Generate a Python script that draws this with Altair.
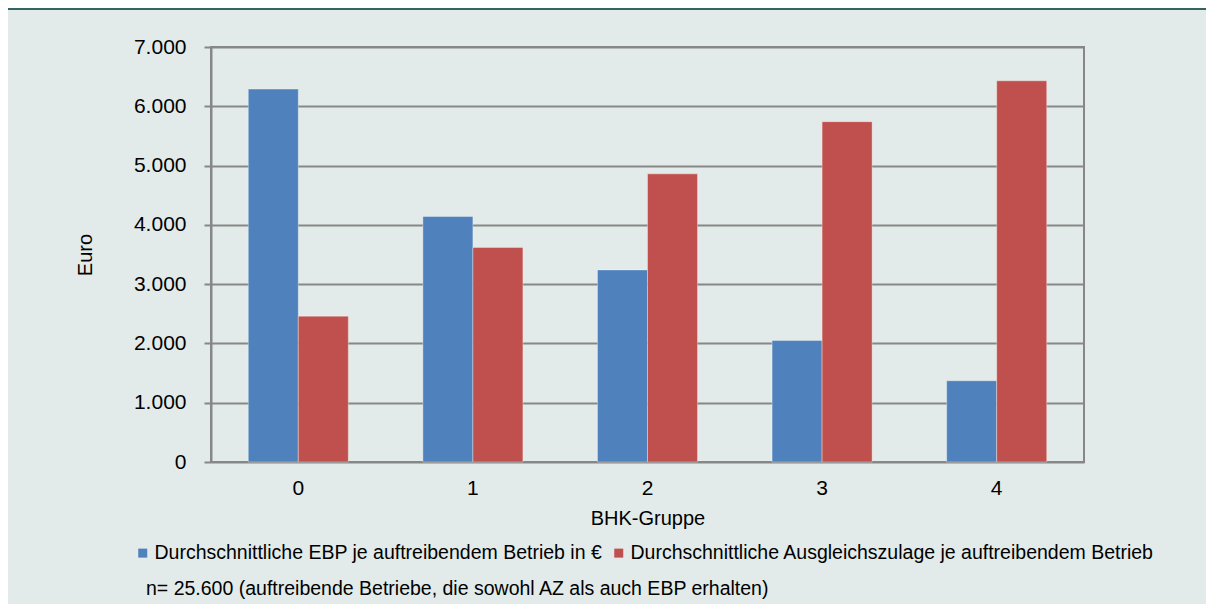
import altair as alt
import pandas as pd

groups = ["0", "1", "2", "3", "4"]
series = [
    "Durchschnittliche EBP je auftreibendem Betrieb in €",
    "Durchschnittliche Ausgleichszulage je auftreibendem Betrieb",
]
ebp = [6290, 4140, 3240, 2050, 1370]
az = [2460, 3620, 4860, 5740, 6430]
colors = ["#4f81bd", "#c0504d"]
note = "n= 25.600 (auftreibende Betriebe, die sowohl AZ als auch EBP erhalten)"

rows = []
for g, a, b in zip(groups, ebp, az):
    rows.append({"BHK": g, "Serie": series[0], "Wert": a})
    rows.append({"BHK": g, "Serie": series[1], "Wert": b})
df = pd.DataFrame(rows)

FONT = "Liberation Sans"
GRID = "#878787"
TEAL = "#316463"

bars = alt.Chart(df).mark_bar(stroke="#ffffff", strokeOpacity=0.35, strokeWidth=1).encode(
    x=alt.X("BHK:N", sort=groups,
            scale=alt.Scale(paddingInner=0.427, paddingOuter=0.2135),
            axis=alt.Axis(title="BHK-Gruppe", labelAngle=0, ticks=False, domain=False,
                          labelFontSize=21, labelPadding=15, labelColor="#000000",
                          titleFontSize=20, titleFontWeight="normal", titleColor="#000000",
                          titlePadding=10, labelFont=FONT, titleFont=FONT)),
    xOffset=alt.XOffset("Serie:N", sort=series, scale=alt.Scale(domain=series)),
    y=alt.Y("Wert:Q", scale=alt.Scale(domain=[0, 7000], nice=False),
            axis=alt.Axis(title="Euro", values=[0, 1000, 2000, 3000, 4000, 5000, 6000, 7000],
                          labelExpr="replace(format(datum.value, ','), ',', '.')",
                          grid=True, gridColor=GRID, gridWidth=2,
                          domain=True, domainColor=GRID, domainWidth=2,
                          ticks=True, tickColor=GRID, tickWidth=2, tickSize=7,
                          labelFontSize=21, labelPadding=18, labelColor="#000000",
                          titleFontSize=20, titleFontWeight="normal", titleColor="#000000",
                          titlePadding=38, labelFont=FONT, titleFont=FONT)),
    color=alt.Color("Serie:N", sort=series,
                    scale=alt.Scale(domain=series, range=colors),
                    legend=alt.Legend(title=None, orient="none", direction="horizontal",
                                      legendX=-78, legendY=496, padding=0,
                                      symbolType="square", symbolSize=81,
                                      symbolStrokeWidth=0, symbolOpacity=1,
                                      labelFontSize=19.5, labelFont=FONT,
                                      labelColor="#000000", labelLimit=1000,
                                      labelOffset=2, columnPadding=6)),
)

note_df = pd.DataFrame({"t": [note]})
note_text = alt.Chart(note_df).mark_text(
    align="left", baseline="middle", fontSize=19.5, font=FONT, color="#000000"
).encode(x=alt.value(-65), y=alt.value(542), text="t:N")

band_df = pd.DataFrame({"b": [1]})
top_band = alt.Chart(band_df).mark_rect(color=TEAL).encode(
    x=alt.value(-203), x2=alt.value(995), y=alt.value(-39), y2=alt.value(-37)
)

chart = alt.layer(top_band, bars, note_text).properties(
    width=873, height=415,
    autosize=alt.AutoSizeParams(type="none"),
    padding={"left": 203, "top": 39, "right": 122, "bottom": 142},
    background="#e2ebe9",
).configure_view(stroke=GRID, strokeWidth=2)

chart.save("out.html", embed_options={"renderer": "svg", "actions": False})
